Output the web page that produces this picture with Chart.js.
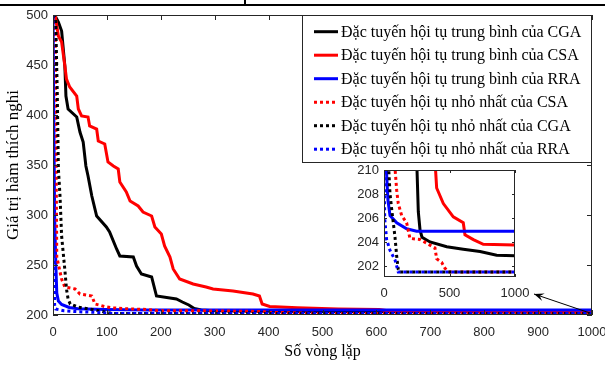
<!DOCTYPE html>
<html><head><meta charset="utf-8">
<script src="https://cdn.jsdelivr.net/npm/chart.js@4"></script>
<style>
html,body{margin:0;padding:0;background:#fff;}
#wrap{position:relative;width:605px;height:365px;overflow:hidden;}
#main{position:absolute;left:0;top:0;}
#inset{position:absolute;left:335px;top:160px;}
</style></head><body>
<div id="wrap"><canvas id="main" width="605" height="365"></canvas><canvas id="inset" width="200" height="145"></canvas></div>
<script>
// ---- data (iteration, fitness) ----
const seriesLabels = [
  'Đặc tuyến hội tụ trung bình của CGA',
  'Đặc tuyến hội tụ trung bình của CSA',
  'Đặc tuyến hội tụ trung bình của RRA',
  'Đặc tuyến hội tụ nhỏ nhất của CSA',
  'Đặc tuyến hội tụ nhỏ nhất của CGA',
  'Đặc tuyến hội tụ nhỏ nhất của RRA'
];
const cgaMeanX = [0,5,10,16,22,24,28,44,50,56,61,65,72,81,99,105,118,124,149,155,164,183,192,229,240,252,262,275,290,351,479,605,733,860,1000];
const cgaMeanY = [500,498,493,484,449,419,406,398,383,373,349,339,319,299,288,283,266,259,258,249,241,238,219,216,213,210,206.5,205,204.4,204,203.6,203.4,203.2,202.9,202.85];
const csaMeanX = [0,4,10,16,22,25,31,44,47,53,65,68,81,84,96,102,112,121,124,136,143,158,167,183,189,201,207,217,223,235,260,284,297,334,371,383,388,402,453,529,605,618,682,758,1000];
const csaMeanY = [500,500,479,473,449,436,428,419,406,399,398,389,386,374,371,353,349,346,333,323,314,309,303,299,288,281,269,258,246,236,231,228,226,224,221,219,211,208.5,207.2,206.1,205.6,204.6,204.2,203.8,203.75];
const rraMeanX = [0,3,5,7,10,16,30,46,97,173,249,1000];
const rraMeanY = [500,300,255,222,214,210.5,207.5,206.2,205.6,205.1,204.9,204.9];
const csaMinX = [0,4,7,16,22,41,50,72,78,97,109,135,173,198,275,326,389,402,440,466,504,1000];
const csaMinY = [500,490,258,236,228,226,221,219,211,208.3,207.2,206.2,205.6,204.3,204.2,203.9,203.5,202.6,202.3,201.8,201.5,201.5];
const cgaMinX = [0,5,8,10,13,16,22,25,28,32,46,59,84,97,109,120,1000];
const cgaMinY = [500,497,420,346,319,279,245,226,216,211,208,206.7,204.4,202.8,201.7,201.5,201.5];
const rraMinX = [0,1,2,3,5,20,46,84,109,1000];
const rraMinY = [500,400,260,210,206,204.2,203.3,202.5,201.5,201.5];

const mainXTicks = [0,100,200,300,400,500,600,700,800,900,1000];
const mainYTicks = [200,250,300,350,400,450,500];
const insetXTicks = [0,500,1000];
const insetYTicks = [202,204,206,208,210];

const xs = [cgaMeanX, csaMeanX, rraMeanX, csaMinX, cgaMinX, rraMinX];
const ys = [cgaMeanY, csaMeanY, rraMeanY, csaMinY, cgaMinY, rraMinY];
const colors = ['#000000','#ff0000','#0000ff','#ff0000','#000000','#0000ff'];
const dotted = [false,false,false,true,true,true];

const AXC = '#262626';
const TICKFONT = {family:'"Liberation Sans", Arial, sans-serif', size:13};
const SERIF = '"Liberation Serif", "Times New Roman", serif';
const plain = v => String(v);

function makeDatasets(){
  return xs.map((xa,i)=>({
    label: seriesLabels[i],
    data: xa.map((v,j)=>({x:v, y:ys[i][j]})),
    borderColor: colors[i],
    backgroundColor: colors[i],
    borderWidth: 3,
    borderDash: dotted[i] ? [3,3] : [],
    pointRadius: 0,
    tension: 0,
    fill: false,
    clip: 0,
    order: 5 - i
  }));
}

const framePlugin = {
  id: 'frame',
  beforeDatasetsDraw(chart){
    const {ctx, chartArea:a} = chart;
    ctx.save(); ctx.fillStyle = '#fff';
    ctx.fillRect(a.left, a.top, a.right-a.left, a.bottom-a.top);
    ctx.restore();
  },
  afterDatasetsDraw(chart, args, opts){
    const {ctx, chartArea:a, scales:{x,y}} = chart;
    const L = opts.tick || 5;
    ctx.save();
    ctx.strokeStyle = AXC; ctx.lineWidth = 1;
    ctx.strokeRect(Math.round(a.left)+0.5, Math.round(a.top)+0.5, Math.round(a.right-a.left)-1, Math.round(a.bottom-a.top)-1);
    ctx.beginPath();
    x.ticks.forEach(t=>{
      const px = Math.round(x.getPixelForValue(t.value))+0.5;
      ctx.moveTo(px, a.bottom); ctx.lineTo(px, a.bottom-L);
      ctx.moveTo(px, a.top); ctx.lineTo(px, a.top+L);
    });
    y.ticks.forEach(t=>{
      const py = Math.round(y.getPixelForValue(t.value))+0.5;
      ctx.moveTo(a.left, py); ctx.lineTo(a.left+L, py);
      ctx.moveTo(a.right, py); ctx.lineTo(a.right-L, py);
    });
    ctx.stroke();
    ctx.restore();
  }
};

const extrasPlugin = {
  id: 'extras',
  beforeDraw(chart){
    const ctx = chart.ctx;
    ctx.save();
    ctx.fillStyle = '#000';
    ctx.fillRect(0, 4, chart.width, 2);
    ctx.fillRect(244, 0, 2, 5);
    ctx.restore();
  },
  afterDraw(chart){
    const {ctx, chartArea:a, scales:{x,y}} = chart;
    ctx.save();
    // legend
    const bw = 290, bh = 147;
    const bx = a.right - bw, by = a.top;
    ctx.fillStyle = '#fff';
    ctx.fillRect(bx, by, bw, bh);
    ctx.strokeStyle = AXC; ctx.lineWidth = 1;
    ctx.strokeRect(Math.round(bx)+0.5, Math.round(by)+0.5, bw-1, bh);
    ctx.font = '16px ' + SERIF;
    ctx.textBaseline = 'middle';
    chart.data.datasets.forEach((ds,i)=>{
      const ey = by + 16.7 + i*23.5;
      ctx.beginPath();
      ctx.strokeStyle = ds.borderColor; ctx.lineWidth = 3;
      ctx.setLineDash(ds.borderDash);
      ctx.moveTo(bx+12, ey); ctx.lineTo(bx+36, ey);
      ctx.stroke();
      ctx.setLineDash([]);
      ctx.fillStyle = '#000';
      ctx.fillText(ds.label, bx+39, ey+1);
    });
    // arrow from curve end to inset
    const sx = x.getPixelForValue(1000) - 2, sy = y.getPixelForValue(202);
    const ex = sx - 56, ey2 = sy - 19;
    ctx.strokeStyle = '#000'; ctx.lineWidth = 1;
    ctx.beginPath(); ctx.moveTo(sx, sy); ctx.lineTo(ex, ey2); ctx.stroke();
    const ang = Math.atan2(ey2 - sy, ex - sx);
    const hl = 10, hw = 4;
    const bxh = ex - hl*Math.cos(ang), byh = ey2 - hl*Math.sin(ang);
    ctx.fillStyle = '#000';
    ctx.beginPath();
    ctx.moveTo(ex, ey2);
    ctx.lineTo(bxh + hw*Math.sin(ang), byh - hw*Math.cos(ang));
    ctx.lineTo(ex - 0.6*hl*Math.cos(ang), ey2 - 0.6*hl*Math.sin(ang));
    ctx.lineTo(bxh - hw*Math.sin(ang), byh + hw*Math.cos(ang));
    ctx.closePath(); ctx.fill();
    ctx.restore();
  }
};

new Chart(document.getElementById('main'), {
  type: 'line',
  data: { datasets: makeDatasets() },
  options: {
    responsive: false, animation: false, devicePixelRatio: 1,
    layout: { padding: { left: 0, right: 13, top: 15, bottom: 0 } },
    plugins: { legend: {display:false}, tooltip: {enabled:false}, frame: {tick:5} },
    scales: {
      x: {
        type: 'linear', min: 0, max: 1000,
        afterBuildTicks: s => { s.ticks = mainXTicks.map(v=>({value:v})); },
        afterFit: s => { s.height = 50; s.paddingLeft = 0; s.paddingRight = 0; },
        grid: { display: false, drawTicks: false },
        border: { display: false },
        ticks: { color: AXC, font: TICKFONT, padding: 10, maxRotation: 0, autoSkip: false, callback: plain },
        title: { display: true, text: 'Số vòng lặp', color: '#000', font: {family: SERIF, size: 16}, padding: {top:0, bottom: 4} }
      },
      y: {
        type: 'linear', min: 200, max: 500,
        afterBuildTicks: s => { s.ticks = mainYTicks.map(v=>({value:v})); },
        afterFit: s => { s.width = 53; s.paddingTop = 0; s.paddingBottom = 0; },
        grid: { display: false, drawTicks: false },
        border: { display: false },
        ticks: { color: AXC, font: TICKFONT, padding: 5, autoSkip: false, callback: plain },
        title: { display: true, text: 'Giá trị hàm thích nghi', color: '#000', font: {family: SERIF, size: 17}, padding: {top: 3, bottom: 0} }
      }
    }
  },
  plugins: [framePlugin, extrasPlugin]
});

new Chart(document.getElementById('inset'), {
  type: 'line',
  data: { datasets: makeDatasets() },
  options: {
    responsive: false, animation: false, devicePixelRatio: 1,
    layout: { padding: { left: 0, right: 20, top: 10, bottom: 0 } },
    plugins: { legend: {display:false}, tooltip: {enabled:false}, frame: {tick:3} },
    scales: {
      x: {
        type: 'linear', min: 0, max: 1000,
        afterBuildTicks: s => { s.ticks = insetXTicks.map(v=>({value:v})); },
        afterFit: s => { s.height = 28; s.paddingLeft = 0; s.paddingRight = 0; },
        grid: { display: false, drawTicks: false },
        border: { display: false },
        ticks: { color: AXC, font: TICKFONT, padding: 9, maxRotation: 0, autoSkip: false, callback: plain }
      },
      y: {
        type: 'linear', min: 201.08, max: 210,
        afterBuildTicks: s => { s.ticks = insetYTicks.map(v=>({value:v})); },
        afterFit: s => { s.width = 49; s.paddingTop = 0; s.paddingBottom = 0; },
        grid: { display: false, drawTicks: false },
        border: { display: false },
        ticks: { color: AXC, font: TICKFONT, padding: 5, autoSkip: false, callback: plain }
      }
    }
  },
  plugins: [framePlugin]
});
</script>
</body></html>
